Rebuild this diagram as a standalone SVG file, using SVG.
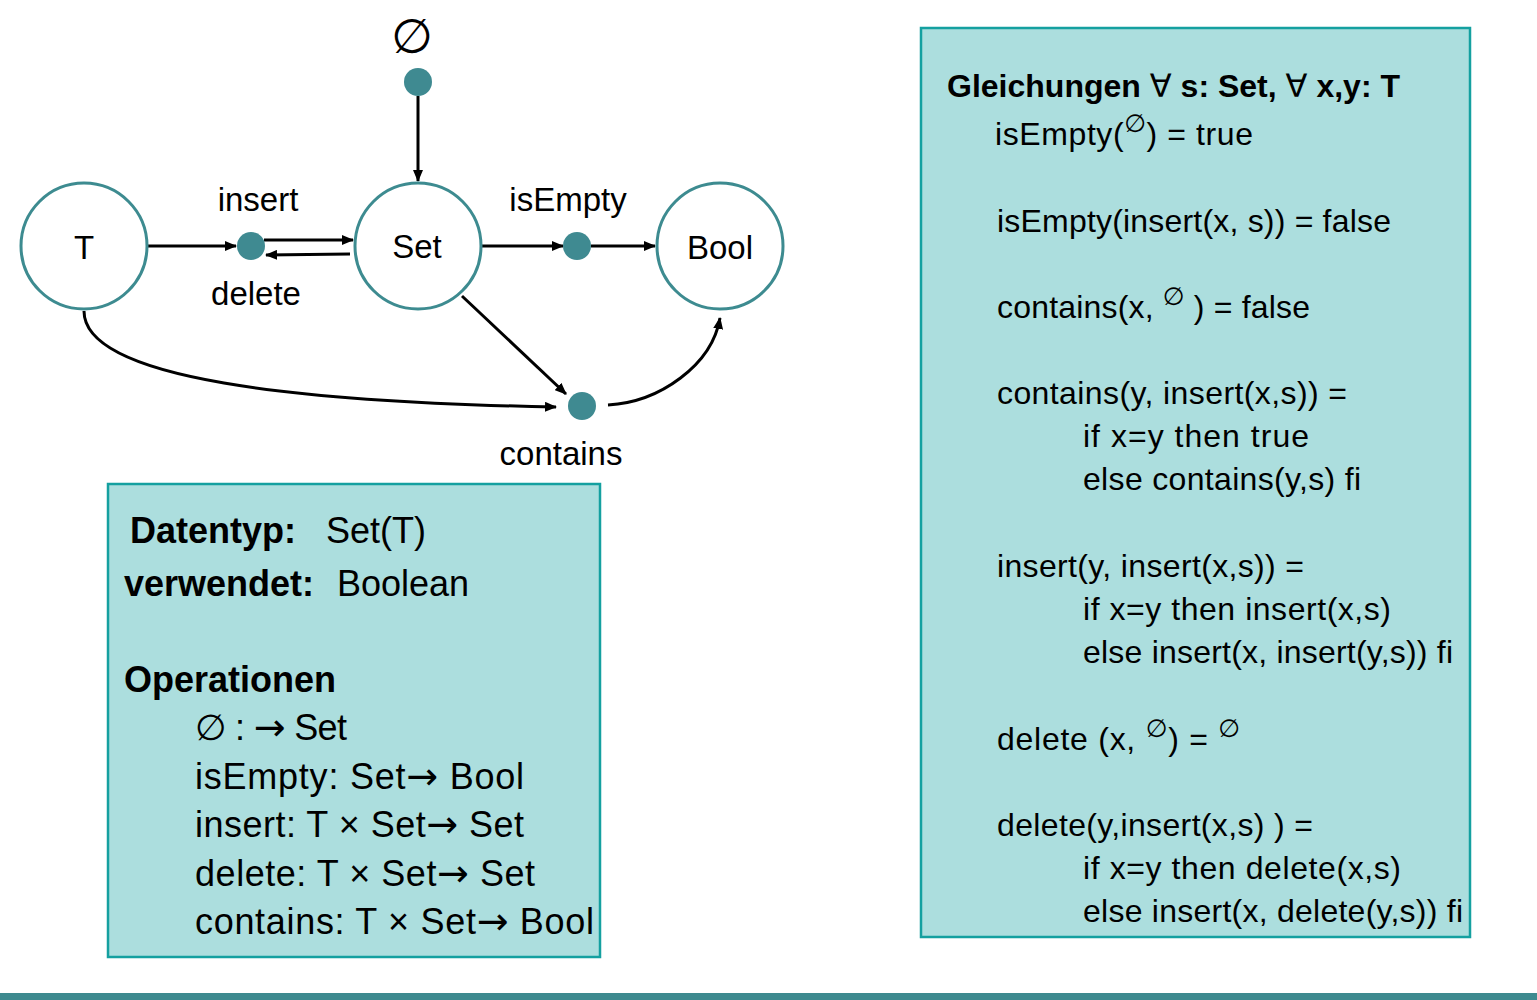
<svg xmlns="http://www.w3.org/2000/svg" width="1537" height="1000" viewBox="0 0 1537 1000">
<defs>
<style>
text{font-family:"Liberation Sans","DejaVu Sans",sans-serif;fill:#000}
.big{font-size:33px}
.lb{font-size:36px}
.rb{font-size:32px}
.b{font-weight:bold}
.n{font-weight:normal}
.ar{font-family:"DejaVu Sans",sans-serif;font-size:38px}
.node{fill:#fff;stroke:#3d8b90;stroke-width:3}
.dot{fill:#3f8a91}
.edge{fill:none;stroke:#000;stroke-width:3}
.box{fill:#acdede;stroke:#14a0a0;stroke-width:2.5}
.sup{font-size:25px}
</style>
<marker id="ah" viewBox="0 0 12 10" refX="11" refY="5" markerWidth="12" markerHeight="10" markerUnits="userSpaceOnUse" orient="auto">
<path d="M0,0 L12,5 L0,10 z" fill="#000"/>
</marker>
</defs>
<rect width="1537" height="1000" fill="#fff"/>

<g id="edges">
<line class="edge" x1="148" y1="246" x2="236" y2="246" marker-end="url(#ah)"/>
<line class="edge" x1="264" y1="240" x2="353" y2="240" marker-end="url(#ah)"/>
<line class="edge" x1="350" y1="254" x2="266" y2="255" marker-end="url(#ah)"/>
<line class="edge" x1="482" y1="246" x2="563" y2="246" marker-end="url(#ah)"/>
<line class="edge" x1="591" y1="246" x2="655" y2="246" marker-end="url(#ah)"/>
<line class="edge" x1="418" y1="96" x2="418" y2="181" marker-end="url(#ah)"/>
<line class="edge" x1="462" y1="296" x2="566" y2="394" marker-end="url(#ah)"/>
<path class="edge" d="M84,311 C84,380 300,402 556,407" marker-end="url(#ah)"/>
<path class="edge" d="M608,405 C660,402 712,365 720,318" marker-end="url(#ah)"/>
</g>

<g id="node-T">
<circle class="node" cx="84" cy="246" r="63"/>
<text class="big" x="84" y="259" text-anchor="middle">T</text>
</g>
<g id="node-Set">
<circle class="node" cx="418" cy="246" r="63"/>
<text class="big" x="417" y="258" text-anchor="middle">Set</text>
</g>
<g id="node-Bool">
<circle class="node" cx="720" cy="246" r="63"/>
<text class="big" x="720" y="259" text-anchor="middle">Bool</text>
</g>
<g id="op-empty">
<circle class="dot" cx="418" cy="82" r="14"/>
<text x="412" y="53" text-anchor="middle" font-size="48" style="font-family:'DejaVu Sans',sans-serif">∅</text>
</g>
<g id="op-insert">
<circle class="dot" cx="251" cy="246" r="14"/>
<text class="big" x="258" y="211" text-anchor="middle">insert</text>
<text class="big" x="256" y="305" text-anchor="middle">delete</text>
</g>
<g id="op-isEmpty">
<circle class="dot" cx="577" cy="246" r="14"/>
<text class="big" x="568" y="211" text-anchor="middle">isEmpty</text>
</g>
<g id="op-contains">
<circle class="dot" cx="582" cy="406" r="14"/>
<text class="big" x="561" y="465" text-anchor="middle">contains</text>
</g>

<g id="box-signature">
<rect class="box" x="108" y="484" width="492" height="473"/>
<text class="lb" x="130" y="543"><tspan class="b">Datentyp:</tspan><tspan x="326">Set(T)</tspan></text>
<text class="lb" x="124" y="596"><tspan class="b">verwendet:</tspan><tspan x="337">Boolean</tspan></text>
<text class="lb b" x="124" y="692">Operationen</text>
<text class="lb" x="195" y="740" textLength="152" lengthAdjust="spacing">∅ : <tspan class="ar">→</tspan> Set</text>
<text class="lb" x="195" y="789" textLength="329" lengthAdjust="spacing">isEmpty: Set<tspan class="ar">→</tspan> Bool</text>
<text class="lb" x="195" y="837" textLength="329" lengthAdjust="spacing">insert: T × Set<tspan class="ar">→</tspan> Set</text>
<text class="lb" x="195" y="886" textLength="340" lengthAdjust="spacing">delete: T × Set<tspan class="ar">→</tspan> Set</text>
<text class="lb" x="195" y="934" textLength="399" lengthAdjust="spacing">contains: T × Set<tspan class="ar">→</tspan> Bool</text>
</g>

<g id="box-equations">
<rect class="box" x="921" y="28" width="549" height="909"/>
<text class="rb b" x="947" y="97" textLength="453" lengthAdjust="spacing">Gleichungen <tspan class="n">∀</tspan> s: Set, <tspan class="n">∀</tspan> x,y: T</text>
<text class="rb" x="995" y="145" textLength="258" lengthAdjust="spacing">isEmpty(<tspan class="sup" dy="-13">∅</tspan><tspan dy="13">) = true</tspan></text>
<text class="rb" x="997" y="232" textLength="394" lengthAdjust="spacing">isEmpty(insert(x, s)) = false</text>
<text class="rb" x="997" y="318" textLength="313" lengthAdjust="spacing">contains(x, <tspan class="sup" dy="-13">∅</tspan><tspan dy="13"> ) = false</tspan></text>
<text class="rb" x="997" y="404" textLength="350" lengthAdjust="spacing">contains(y, insert(x,s)) =</text>
<text class="rb" x="1083" y="447" textLength="226" lengthAdjust="spacing">if x=y then true</text>
<text class="rb" x="1083" y="490" textLength="278" lengthAdjust="spacing">else contains(y,s) fi</text>
<text class="rb" x="997" y="577" textLength="307" lengthAdjust="spacing">insert(y, insert(x,s)) =</text>
<text class="rb" x="1083" y="620" textLength="308" lengthAdjust="spacing">if x=y then insert(x,s)</text>
<text class="rb" x="1083" y="663" textLength="370" lengthAdjust="spacing">else insert(x, insert(y,s)) fi</text>
<text class="rb" x="997" y="750" textLength="243" lengthAdjust="spacing">delete (x, <tspan class="sup" dy="-13">∅</tspan><tspan dy="13">) = </tspan><tspan class="sup" dy="-13">∅</tspan></text>
<text class="rb" x="997" y="836" textLength="316" lengthAdjust="spacing">delete(y,insert(x,s) ) =</text>
<text class="rb" x="1083" y="879" textLength="318" lengthAdjust="spacing">if x=y then delete(x,s)</text>
<text class="rb" x="1083" y="922" textLength="380" lengthAdjust="spacing">else insert(x, delete(y,s)) fi</text>
</g>

<rect id="footer-bar" x="0" y="993" width="1537" height="7" fill="#3e8a8f"/>
</svg>
